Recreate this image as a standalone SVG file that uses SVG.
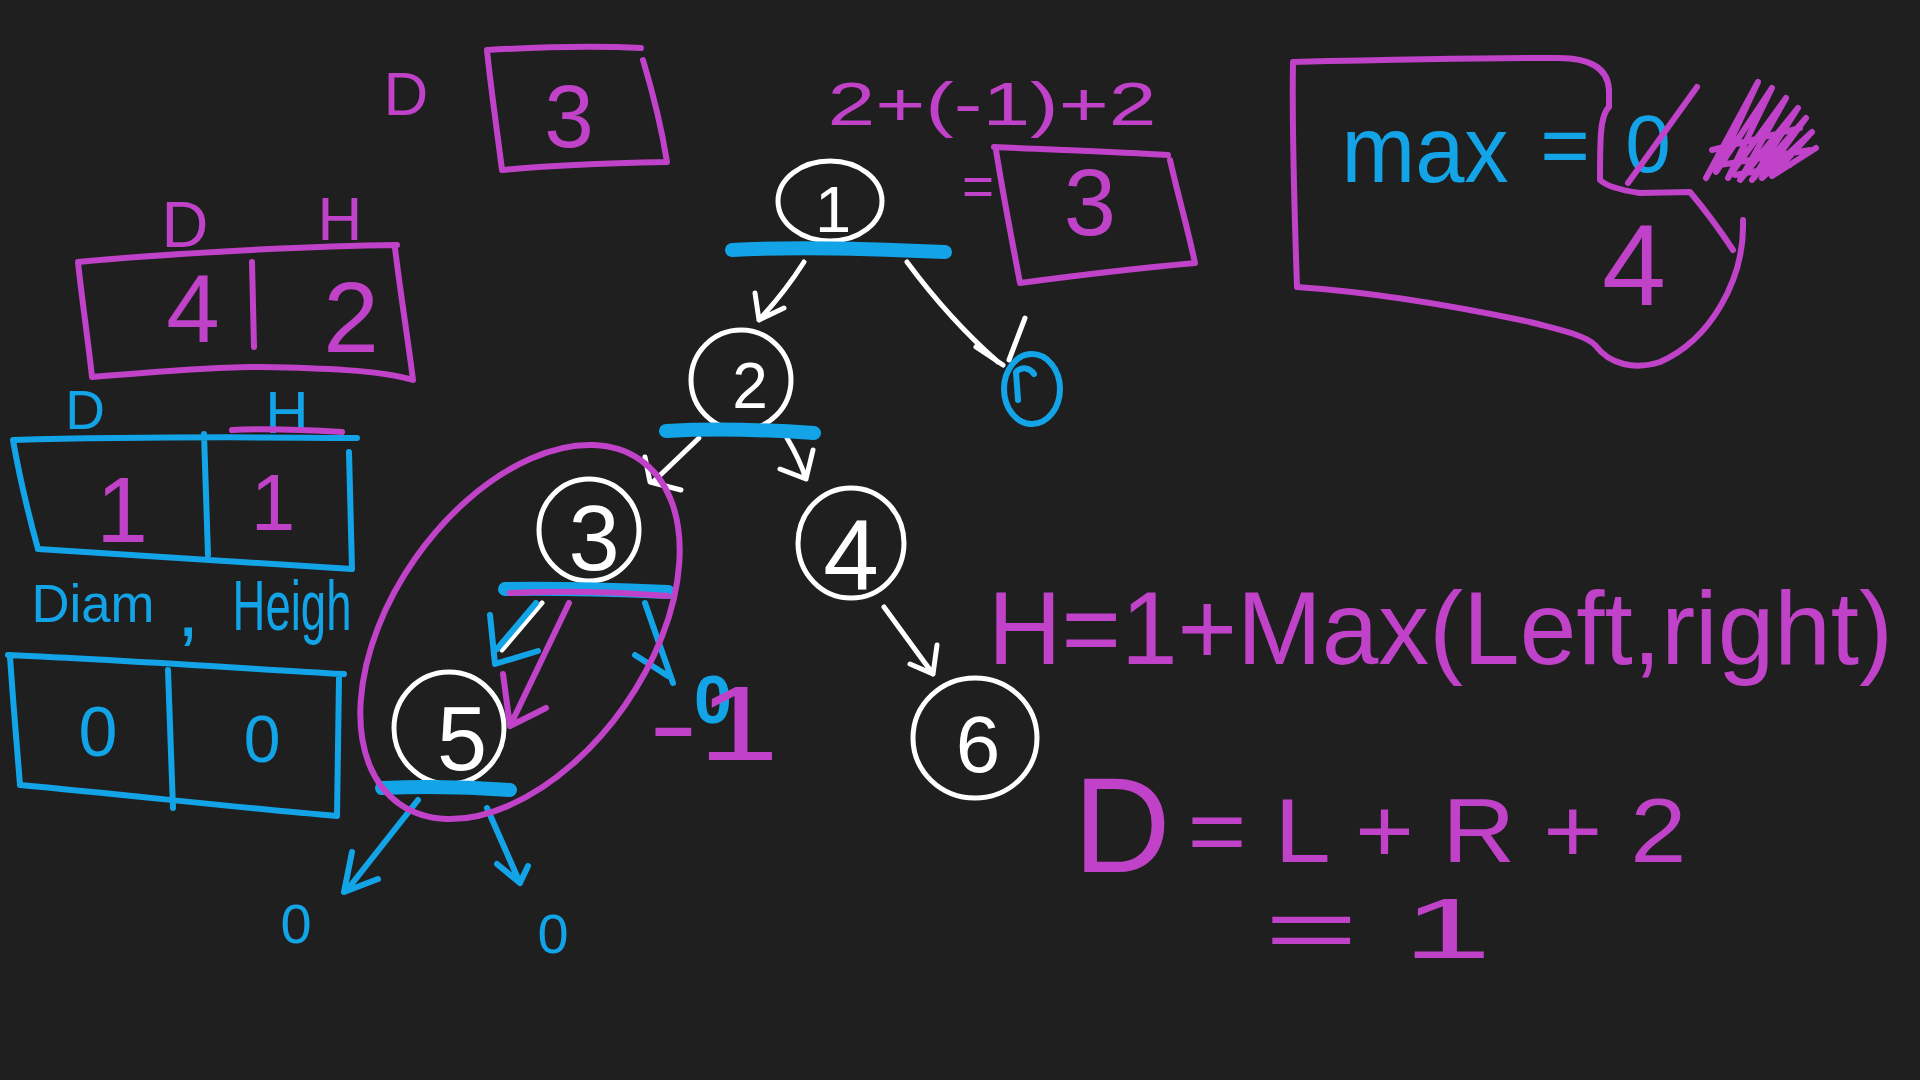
<svg xmlns="http://www.w3.org/2000/svg" width="1920" height="1080" viewBox="0 0 1920 1080">
<style>
.m{fill:none;stroke:#c042c8;stroke-width:6;stroke-linecap:round;stroke-linejoin:round}
.b{fill:none;stroke:#13a4e8;stroke-width:6;stroke-linecap:round;stroke-linejoin:round}
.w{fill:none;stroke:#ffffff;stroke-width:5;stroke-linecap:round;stroke-linejoin:round}
.ub{fill:none;stroke:#13a4e8;stroke-width:14;stroke-linecap:round}
.t{font-family:"Liberation Sans","DejaVu Sans",sans-serif;text-anchor:middle}
.tm{fill:#c042c8}
.tb{fill:#13a4e8}
.tw{fill:#ffffff}
</style>
<rect x="0" y="0" width="1920" height="1080" fill="#1f1f1f"/>

<g id="diameter-result">
<text class="t tm" x="406" y="115" font-size="62">D</text>
<path class="m" d="M487,50 C540,47 600,46 641,48 M643,60 C652,90 662,130 667,162 M502,170 C550,165 620,163 667,162 M487,50 C491,90 497,130 502,170"/>
<text class="t tm" x="569" y="147" font-size="89">3</text>
</g>

<g id="box-root-values">
<text class="t tm" x="185" y="247" font-size="65">D</text>
<text class="t tm" x="340" y="240" font-size="62">H</text>
<path class="m" d="M78,262 C150,255 300,246 397,245 M78,262 C82,300 88,340 92,377 M395,248 C400,290 408,340 413,380 M92,377 C150,372 220,366 260,367 C320,368 380,370 413,380 M252,262 L254,347"/>
<text class="t tm" x="193" y="342" font-size="96">4</text>
<text class="t tm" x="351" y="352" font-size="100">2</text>
</g>

<g id="box-node3-values">
<text class="t tb" x="85" y="429" font-size="55">D</text>
<text class="t tb" x="287" y="433" font-size="60">H</text>
<path class="m" d="M232,430 C270,428 310,430 342,432" stroke-width="10"/>
<path class="b" d="M13,440 C120,437 250,437 357,438 M13,440 C20,480 30,520 38,549 M38,549 C150,556 260,563 352,569 M349,452 L352,569 M204,434 L208,555"/>
<text class="t tm" x="122" y="542" font-size="93">1</text>
<text class="t tm" x="273" y="530" font-size="80">1</text>
</g>

<g id="box-node5-values">
<text class="t tb" x="93" y="622" font-size="53" textLength="123" lengthAdjust="spacingAndGlyphs">Diam</text>
<text class="t tb" x="188" y="636" font-size="80">,</text>
<text class="t tb" x="292" y="630" font-size="70" textLength="119" lengthAdjust="spacingAndGlyphs">Heigh</text>
<path class="b" d="M8,655 C120,660 240,668 344,674 M10,657 C13,700 17,750 20,785 M20,785 C130,795 240,808 337,816 M339,678 L337,816 M168,670 L173,808"/>
<text class="t tb" x="98" y="756" font-size="70">0</text>
<text class="t tb" x="262" y="762" font-size="66">0</text>
</g>

<g id="sum-expression">
<text class="t tm" x="992" y="125" font-size="62" textLength="329" lengthAdjust="spacingAndGlyphs">2+(-1)+2</text>
<text class="t tm" x="978" y="205" font-size="55">=</text>
<path class="m" d="M994,147 C1060,150 1120,152 1168,155 M1170,160 C1178,195 1188,230 1195,263 M1020,283 C1080,275 1140,268 1195,263 M996,150 C1003,195 1012,240 1020,283"/>
<text class="t tm" x="1090" y="235" font-size="94">3</text>
</g>

<g id="max-box">
<path class="m" d="M1297,287 C1294,200 1292,120 1293,62 C1380,60 1480,58 1558,58 C1590,58 1608,68 1609,90 L1609,107 C1600,115 1600,140 1600,180 C1605,185 1620,190 1640,193 L1690,192 C1705,210 1720,230 1733,250 M1743,220 C1745,280 1710,340 1660,362 C1635,370 1610,365 1595,345 C1585,335 1560,330 1530,322 C1450,305 1370,292 1297,287"/>
<text class="t tb" x="1425" y="182" font-size="95" textLength="167" lengthAdjust="spacingAndGlyphs">max</text>
<text class="t tb" x="1565" y="174" font-size="85">=</text>
<text class="t tb" x="1648" y="172" font-size="82">0</text>
<path class="m" d="M1697,87 L1628,183"/>
<path class="m" stroke-width="7" d="M1706,178 L1758,82 L1716,172 L1772,88 L1728,178 L1786,98 L1740,180 L1798,108 L1752,180 L1806,118 L1762,178 L1812,132 L1772,176 L1816,148 M1712,150 L1800,128 M1720,165 L1810,150 M1735,175 L1790,165"/>
<text class="t tm" x="1634" y="305" font-size="115">4</text>
</g>

<g id="connectors">
<path class="w" d="M804,262 Q785,292 759,320 M755,293 L759,320 L784,308"/>
<path class="w" d="M907,262 Q950,320 998,362 M1025,318 L1009,360 M976,347 L1003,365"/>
<path class="w" d="M699,438 L653,482 M645,457 L650,482 L681,490"/>
<path class="w" d="M787,438 Q800,460 806,479 M780,469 L806,479 L813,450"/>
<path class="w" d="M884,607 L933,674 M910,664 L933,674 L937,645"/>
<path class="w" d="M542,603 L502,650"/>
<path class="b" stroke-width="8" d="M536,603 L497,649 M490,615 L495,664 L538,651"/>
<path class="m" d="M569,603 L510,726 M503,674 L510,726 L546,708"/>
<path class="b" d="M645,603 L673,683 M635,655 L668,676"/>
<path class="b" d="M418,800 L347,890 M352,852 L344,892 L378,879"/>
<path class="b" d="M487,808 L520,883 M497,864 L520,883 L528,866"/>
</g>

<g id="node-1">
<ellipse class="w" cx="830" cy="201" rx="52" ry="40"/>
<text class="t tw" x="833" y="232" font-size="65">1</text>
<path class="ub" d="M732,250 C800,246 880,249 945,252"/>
</g>

<g id="node-null-right">
<ellipse class="b" cx="1032" cy="389" rx="28" ry="35" stroke-width="8"/>
<path class="b" stroke-width="4" d="M1018,400 L1016,372 C1022,366 1030,368 1034,374"/>
</g>

<g id="node-2">
<ellipse class="w" cx="741" cy="380" rx="50" ry="50"/>
<text class="t tw" x="750" y="408" font-size="64">2</text>
<path class="ub" d="M666,431 C720,428 770,430 814,433" stroke-width="12"/>
</g>

<g id="node-3">
<ellipse class="w" cx="589" cy="530" rx="50" ry="51"/>
<text class="t tw" x="594" y="570" font-size="92">3</text>
<path class="ub" d="M505,589 C560,588 620,590 668,592"/>
<path class="m" stroke-width="10" d="M510,593 C570,590 620,592 668,596"/>
</g>

<g id="node-4">
<ellipse class="w" cx="851" cy="543" rx="53" ry="55"/>
<text class="t tw" x="851" y="590" font-size="100">4</text>
</g>

<g id="node-5">
<ellipse class="w" cx="449" cy="728" rx="55" ry="56"/>
<text class="t tw" x="462" y="770" font-size="90">5</text>
<path class="ub" d="M382,788 C430,786 470,787 510,790"/>
</g>

<g id="node-6">
<ellipse class="w" cx="975" cy="738" rx="62" ry="60"/>
<text class="t tw" x="978" y="772" font-size="80">6</text>
</g>

<g id="subtree-highlight">
<ellipse class="m" cx="520" cy="632" rx="210" ry="128" transform="rotate(-55 520 632)"/>
<text class="t tb" x="713" y="723" font-size="68" font-weight="bold">0</text>
<text class="t tm" x="714" y="760" font-size="105" textLength="130" lengthAdjust="spacingAndGlyphs">-1</text>
</g>

<g id="null-leaves">
<text class="t tb" x="296" y="943" font-size="56">0</text>
<text class="t tb" x="553" y="953" font-size="56">0</text>
</g>

<g id="formulas">
<text class="t tm" x="988" y="664" font-size="103" text-anchor="start" style="text-anchor:start" textLength="905" lengthAdjust="spacingAndGlyphs">H=1+Max(Left,right)</text>
<text class="t tm" x="1122" y="872" font-size="135">D</text>
<text class="t tm" x="1437" y="862" font-size="90" textLength="499" lengthAdjust="spacingAndGlyphs">= L + R + 2</text>
<text class="t tm" x="1378" y="958" font-size="85" textLength="227" lengthAdjust="spacingAndGlyphs">= 1</text>
</g>
</svg>
